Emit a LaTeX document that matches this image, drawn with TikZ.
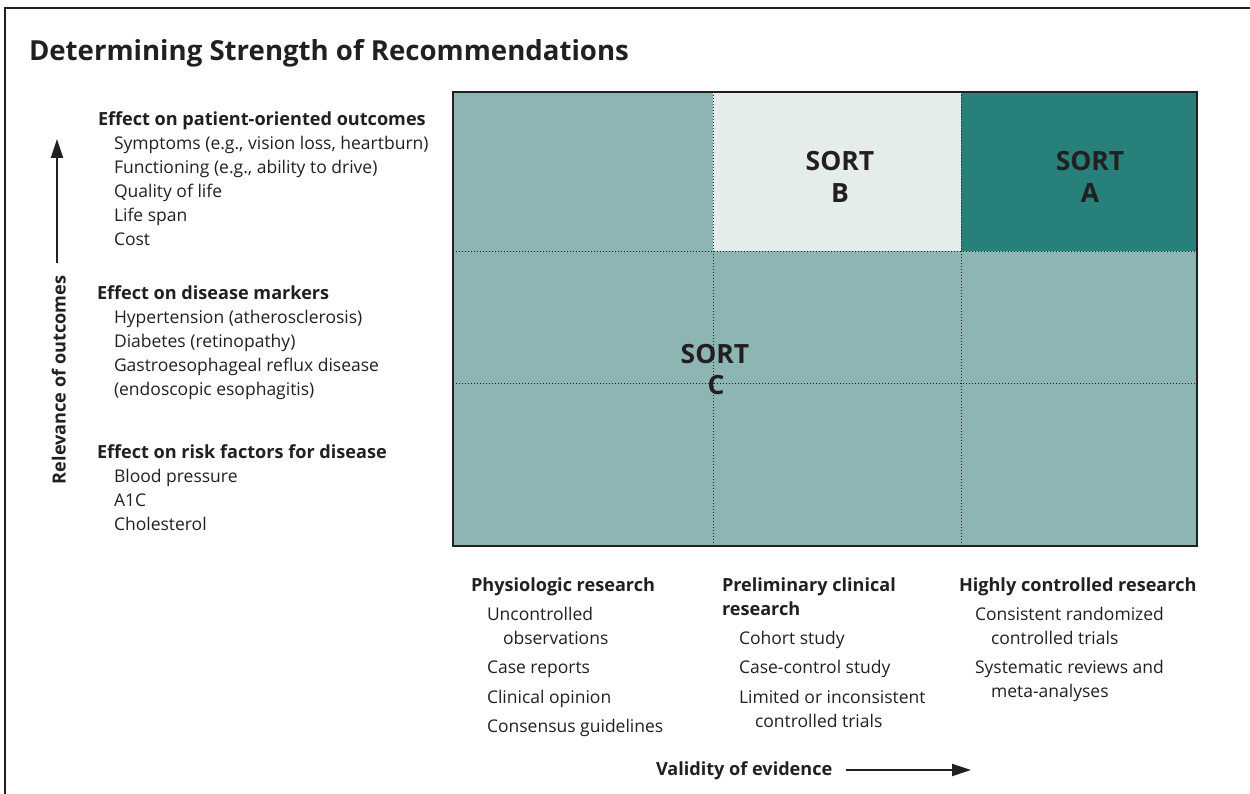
\documentclass[tikz,border=0pt]{standalone}
\usepackage{fontspec}
\setmainfont{Open Sans}
\usetikzlibrary{arrows.meta}
\definecolor{txt}{HTML}{231F20}
\definecolor{midteal}{HTML}{8CB5B3}
\definecolor{lightteal}{HTML}{E4ECEC}
\definecolor{darkteal}{HTML}{27807A}
\tikzset{
  every node/.style={inner sep=0pt, outer sep=0pt, text=txt},
  head/.style={anchor=mid west, font=\fontsize{18.1}{21}\selectfont\bfseries},
  item/.style={anchor=mid west, font=\fontsize{17.5}{21}\selectfont},
  sortlbl/.style={font=\fontsize{26.5}{30}\selectfont\bfseries, anchor=mid},
  gridline/.style={draw=txt, line width=0.9pt, dash pattern=on 1pt off 2pt},
  axisarrow/.style={draw=txt, line width=2pt, -{Triangle[length=19pt,width=12pt]}},
}
\begin{document}
\begin{tikzpicture}[x=1pt,y=-1pt]
\useasboundingbox (0,0) rectangle (1250,794);
\draw[line width=2pt, draw=txt] (5,794) -- (5,8) -- (1250,8);
\node[anchor=mid west, font=\fontsize{27.6}{32}\selectfont\bfseries] (title) at (29,58) {Determining Strength of Recommendations};
% grid
\fill[midteal] (453,92) rectangle (1197,546);
\fill[lightteal] (713,92) rectangle (961,251);
\fill[darkteal] (961,92) rectangle (1197,251);
\draw[gridline] (713,92) -- (713,546);
\draw[gridline] (961,92) -- (961,546);
\draw[gridline] (453,251) -- (1197,251);
\draw[gridline] (453,383) -- (1197,383);
\draw[draw=txt, line width=1.6pt] (453,92) rectangle (1197,546);
\node[sortlbl] (sb1) at (840,168) {SORT};
\node[sortlbl] (sb2) at (840,200) {B};
\node[sortlbl] (sa1) at (1090,168) {SORT};
\node[sortlbl] (sa2) at (1090,200) {A};
\node[sortlbl] (sc1) at (715,361) {SORT};
\node[sortlbl] (sc2) at (716,392) {C};
% left lists
\node[head] (h1) at (98,123) {Effect on patient-oriented outcomes};
\node[item] (h1a) at (114,147) {Symptoms (e.g., vision loss, heartburn)};
\node[item] (h1b) at (114,171) {Functioning (e.g., ability to drive)};
\node[item] (h1c) at (114,195) {Quality of life};
\node[item] (h1d) at (114,219) {Life span};
\node[item] (h1e) at (114,243) {Cost};
\node[head] (h2) at (97,297) {Effect on disease markers};
\node[item] (h2a) at (114,321) {Hypertension (atherosclerosis)};
\node[item] (h2b) at (114,345) {Diabetes (retinopathy)};
\node[item] (h2c) at (114,369) {Gastroesophageal reflux disease};
\node[item] (h2d) at (114,393) {(endoscopic esophagitis)};
\node[head] (h3) at (97,456) {Effect on risk factors for disease};
\node[item] (h3a) at (114,480) {Blood pressure};
\node[item] (h3b) at (114,504) {A1C};
\node[item] (h3c) at (114,528) {Cholesterol};
% vertical axis
\node[font=\fontsize{18.1}{21}\selectfont\bfseries, rotate=90, anchor=mid] (ylab) at (63,380) {Relevance of outcomes};
\coordinate (ys) at (57,263);
\coordinate (ye) at (57,139);
\draw[axisarrow] (ys) -- (ye);
% bottom lists
\node[head] (c1) at (471,589) {Physiologic research};
\node[item] (c1a) at (487,618) {Uncontrolled};
\node[item] (c1b) at (503,642) {observations};
\node[item] (c1c) at (487,671) {Case reports};
\node[item] (c1d) at (487,701) {Clinical opinion};
\node[item] (c1e) at (487,730) {Consensus guidelines};
\node[head] (c2) at (722,589) {Preliminary clinical};
\node[head] (c2x) at (722,613) {research};
\node[item] (c2a) at (739,642) {Cohort study};
\node[item] (c2b) at (739,671) {Case-control study};
\node[item] (c2c) at (739,701) {Limited or inconsistent};
\node[item] (c2d) at (755,725) {controlled trials};
\node[head] (c3) at (959,589) {Highly controlled research};
\node[item] (c3a) at (975,618) {Consistent randomized};
\node[item] (c3b) at (991,642) {controlled trials};
\node[item] (c3c) at (975,671) {Systematic reviews and};
\node[item] (c3d) at (991,695) {meta-analyses};
% horizontal axis
\node[head] (xlab) at (656,773) {Validity of evidence};
\coordinate (xs) at (846,770);
\coordinate (xe) at (971,770);
\draw[axisarrow] (xs) -- (xe);
\end{tikzpicture}
\end{document}
